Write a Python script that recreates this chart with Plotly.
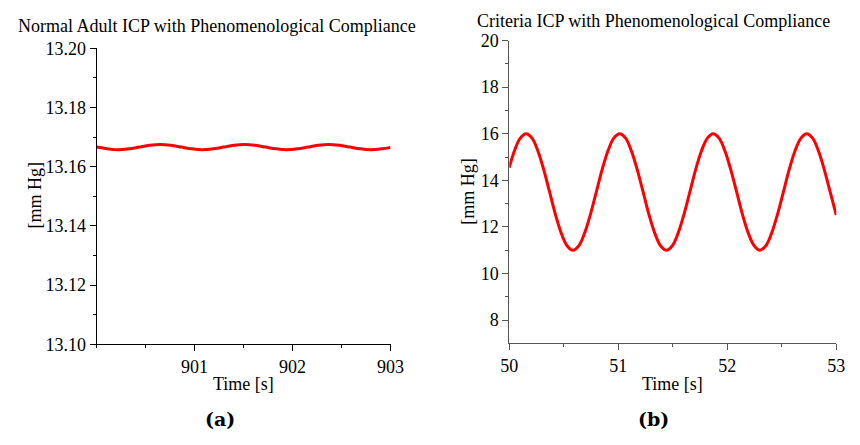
import plotly.graph_objects as go

# Panel (a): normal adult ICP, time [s] vs pressure [mm Hg]
t_normal = [900.00, 900.11, 900.22, 900.33, 900.435, 900.54, 900.65, 900.76,
            900.865, 900.97, 901.08, 901.19, 901.295, 901.40, 901.51, 901.62,
            901.725, 901.83, 901.94, 902.05, 902.155, 902.26, 902.37, 902.48,
            902.585, 902.69, 902.80, 902.91, 903.00]
icp_normal = [13.1666, 13.1660, 13.1657, 13.1660, 13.1666, 13.1672, 13.1675, 13.1672,
              13.1666, 13.1660, 13.1657, 13.1660, 13.1666, 13.1672, 13.1675, 13.1672,
              13.1666, 13.1660, 13.1657, 13.1660, 13.1666, 13.1672, 13.1675, 13.1672,
              13.1666, 13.1660, 13.1657, 13.1660, 13.1665]

# Panel (b): criteria ICP
t_criteria = [50.000, 50.048, 50.101,
              50.155, 50.209, 50.262, 50.316, 50.370, 50.423, 50.477, 50.530,
              50.584, 50.638, 50.691, 50.745, 50.799, 50.852, 50.906, 50.959,
              51.013, 51.067, 51.120, 51.174, 51.228, 51.281, 51.335, 51.388,
              51.442, 51.496, 51.549, 51.603, 51.657, 51.710, 51.764, 51.818,
              51.871, 51.925, 51.978, 52.032, 52.086, 52.139, 52.193, 52.247,
              52.300, 52.354, 52.407, 52.461, 52.515, 52.568, 52.622, 52.676,
              52.729, 52.783, 52.836, 52.890, 52.944, 53.000]
icp_criteria = [14.55, 15.27, 15.81,
                16.00, 15.81, 15.27, 14.46, 13.50, 12.54, 11.73, 11.19,
                11.00, 11.19, 11.73, 12.54, 13.50, 14.46, 15.27, 15.81,
                16.00, 15.81, 15.27, 14.46, 13.50, 12.54, 11.73, 11.19,
                11.00, 11.19, 11.73, 12.54, 13.50, 14.46, 15.27, 15.81,
                16.00, 15.81, 15.27, 14.46, 13.50, 12.54, 11.73, 11.19,
                11.00, 11.19, 11.73, 12.54, 13.50, 14.46, 15.27, 15.81,
                16.00, 15.81, 15.27, 14.46, 13.50, 12.50]

# Tick positions
xt_a = [901, 902, 903]
xt_a_minor = [900.0, 900.5, 901.5, 902.5]
yt_a = [13.10, 13.12, 13.14, 13.16, 13.18, 13.20]
yt_a_minor = [13.11, 13.13, 13.15, 13.17, 13.19]
xt_b = [50, 51, 52, 53]
xt_b_minor = [50.5, 51.5, 52.5]
yt_b = [8, 10, 12, 14, 16, 18, 20]
yt_b_minor = [9, 11, 13, 15, 17, 19]

titles = ["Normal Adult ICP with Phenomenological Compliance",
          "Criteria ICP with Phenomenological Compliance"]
panel_tags = ["(a)", "(b)"]

FONT = "Liberation Serif, Times New Roman, serif"
W, H = 860, 445

fig = go.Figure()
fig.add_trace(go.Scatter(x=t_normal, y=icp_normal, mode="lines",
                         line=dict(color="#ff0000", width=3, shape="spline"),
                         xaxis="x", yaxis="y", hoverinfo="skip"))
fig.add_trace(go.Scatter(x=t_criteria, y=icp_criteria, mode="lines",
                         line=dict(color="#ff0000", width=3, shape="spline"),
                         xaxis="x2", yaxis="y2", hoverinfo="skip"))


def axis(domain, rng, ticks, minor_ticks, color, fmt=None, anchor=None):
    d = dict(domain=domain, range=rng, tickmode="array", tickvals=ticks,
             ticks="outside", ticklen=6, tickcolor=color, tickwidth=1,
             showline=True, linecolor=color, linewidth=1,
             showgrid=False, zeroline=False, fixedrange=True,
             tickfont=dict(family=FONT, size=18, color="black"),
             minor=dict(tickmode="array", tickvals=minor_ticks, ticks="outside",
                        ticklen=3, tickcolor=color, tickwidth=1, showgrid=False))
    if fmt:
        d["tickformat"] = fmt
    if anchor:
        d["anchor"] = anchor
    return d


def px_x(px):
    # pixel column -> paper fraction
    return px / W


def px_y(px):
    # pixel row -> paper fraction (measured from the bottom)
    return 1 - px / H


fig.update_layout(
    width=W, height=H,
    margin=dict(l=0, r=0, t=0, b=0),
    font=dict(family=FONT, size=18, color="black"),
    paper_bgcolor="white", plot_bgcolor="white",
    showlegend=False,
    xaxis=axis([px_x(90), px_x(392)], [900, 903], xt_a, xt_a_minor, "black", anchor="y"),
    yaxis=axis([px_y(350), px_y(40)], [13.10, 13.20], yt_a, yt_a_minor, "black",
               fmt=".2f", anchor="x"),
    xaxis2=axis([px_x(514), px_x(850)], [50, 53], xt_b, xt_b_minor, "#555555", anchor="y2"),
    yaxis2=axis([px_y(349), px_y(32)], [7, 20], yt_b, yt_b_minor, "#555555", anchor="x2"),
)

ann = []
# panel titles
ann.append(dict(text=titles[0], x=px_x(214), y=px_y(17)))
ann.append(dict(text=titles[1], x=px_x(662), y=px_y(11)))
# axis titles
ann.append(dict(text="[mm Hg]", x=px_x(27), y=px_y(194), textangle=-90))
ann.append(dict(text="[mm Hg]", x=px_x(472), y=px_y(190), textangle=-90))
ann.append(dict(text="Time [s]", x=px_x(241), y=px_y(392)))
ann.append(dict(text="Time [s]", x=px_x(682), y=px_y(392)))
for a in ann:
    a.update(xref="paper", yref="paper", showarrow=False,
             xanchor="center", yanchor="middle",
             font=dict(family=FONT, size=18, color="black"))
# panel tags
for tag, xp in zip(panel_tags, [217, 662]):
    ann.append(dict(text="<b>" + tag + "</b>", x=px_x(xp), y=px_y(428),
                    xref="paper", yref="paper", showarrow=False,
                    xanchor="center", yanchor="middle",
                    font=dict(family="DejaVu Serif", size=19, color="black")))
fig.update_layout(annotations=ann)

# page without body margin so the 860x445 figure fills the window exactly
fig.write_html("out.html", config={"displayModeBar": False},
               post_script="document.body.style.margin='0';"
                           "document.body.style.overflow='hidden';")
